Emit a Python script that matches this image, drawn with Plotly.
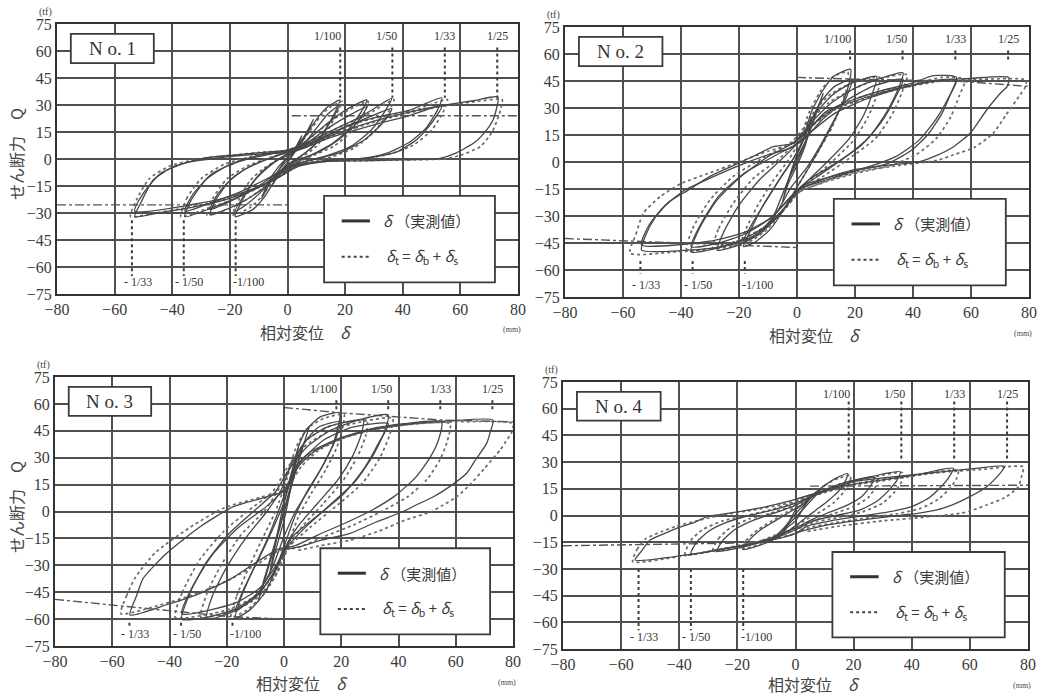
import plotly.graph_objects as go

W, H = 1041, 695

X_TICKS = [-80, -60, -40, -20, 0, 20, 40, 60, 80]
Y_TICKS = [-75, -60, -45, -30, -15, 0, 15, 30, 45, 60, 75]
PANEL_NAMES = ["N o. 1", "N o. 2", "N o. 3", "N o. 4"]

DRIFT_POS_X = [18.3, 36.4, 54.6, 72.8]
DRIFT_POS_LABELS = ["1/100", "1/50", "1/33", "1/25"]
DRIFT_NEG_X = [-54.0, -36.0, -18.0]
DRIFT_NEG_LABELS = ["- 1/33", "- 1/50", "-1/100"]
DRIFT_POS_SPAN = [(62, 34), (62, 56), (62, 57), (64, 31)]
DRIFT_NEG_SPAN = [(-34, -65), (-55, -62), (-62, -64.5), (-30, -64.5)]

LEGEND_MEASURED = "<i>δ</i> （実測値）"
LEGEND_CALC = "<i>δ</i><sub>t</sub> = <i>δ</i><sub>b</sub> + <i>δ</i><sub>s</sub>"
X_TITLE = "相対変位　<i>δ</i>"
Y_TITLE = "せん断力　Q"

# ---------------- No.1 ----------------
NO1_MEASURED = [
    [(5, 13), (3, 7), (0, 1), (-3, -6), (-5, -14), (-3, -8), (0, -2), (3, 5), (5, 13)],
    [(9, 22), (6, 12), (2, 3), (-3, -6), (-6, -13), (-9, -22), (-7, -14), (-3, -4), (2, 4), (6, 13), (9, 22)],
    [(-18.2, -32), (-16, -24), (-12, -13), (-7, -5), (-2, 1), (3, 6), (7, 15), (11, 24), (14, 29), (18.2, 32.8),
     (16.5, 26), (13, 16), (9, 7), (4, 1), (0, -4), (-4, -11), (-8, -21), (-12, -28), (-18.2, -32)],
    [(-18.2, -29), (-15, -20), (-10, -9), (-5, -2), (0, 2), (5, 7), (10, 17), (14, 25), (18.2, 30),
     (15, 21), (11, 11), (6, 3), (1, -2), (-4, -9), (-9, -18), (-14, -25), (-18.2, -29)],
    [(-26.9, -31), (-25, -23), (-20, -12), (-13, -4), (-5, 1), (2, 5), (8, 12), (14, 20), (20, 27), (27.5, 32.8),
     (25.5, 26), (21, 16), (15, 8), (8, 2), (2, -3), (-3, -9), (-9, -17), (-17, -25), (-26.9, -31)],
    [(-26.9, -28), (-24, -19), (-18, -9), (-10, -2), (-2, 3), (6, 8), (13, 16), (20, 23), (27.5, 29),
     (24, 20), (18, 11), (11, 4), (3, -1), (-3, -7), (-10, -15), (-18, -22), (-26.9, -28)],
    [(-35.6, -32), (-33.5, -23), (-28, -11), (-20, -3), (-10, 2), (0, 5), (8, 10), (17, 17), (26, 24), (36.2, 33.7),
     (34, 27), (29, 16), (22, 7), (14, 2), (5, -2), (-1, -6), (-8, -14), (-17, -21), (-26, -27), (-35.6, -32)],
    [(-35.6, -29), (-33, -20), (-26, -8), (-16, -1), (-5, 3), (5, 7), (15, 14), (25, 21), (36.2, 28),
     (33, 20), (27, 11), (19, 4), (10, 0), (2, -3), (-6, -10), (-16, -18), (-26, -24), (-35.6, -29)],
    [(-53, -32), (-51, -24.6), (-46.6, -11.7), (-39.6, -4.3), (-29.2, 0.4), (-18.8, 2.2), (-6, 4), (2, 5),
     (12, 12), (22.8, 19.8), (33, 24), (42.5, 27.2), (53.5, 34), (52, 27), (48, 17), (42, 9), (34, 3), (24, 0),
     (12, -1), (3, -4), (-2, -9), (-11.9, -17), (-22.3, -23), (-33.6, -27), (-45, -30), (-53, -32)],
    [(-53, -29), (-50, -19), (-44, -8), (-35, -2), (-22, 1), (-8, 3), (2, 4), (15, 12), (30, 19), (42, 24),
     (53.5, 29.5), (50, 20), (45, 11), (38, 4), (28, 0.5), (15, -1), (4, -4), (-5, -12), (-18, -20), (-32, -25),
     (-53, -29)],
    [(2, 4), (15, 13), (30, 21), (45, 27), (55, 30), (65, 32.5), (73, 34.4), (71.4, 22), (68, 14), (64.5, 8.7),
     (58, 3), (52.9, 0.4), (40, -0.5), (25, -1), (11.3, -1.5), (2, -4), (-2, -9)],
]
NO1_CALC = [
    [(-19, -31), (-17, -23), (-13, -12), (-8, -5), (-2, 1), (3, 6), (8, 16), (12, 25), (15, 29), (19, 32),
     (17, 25), (14, 16), (10, 7), (5, 1), (0, -4), (-5, -12), (-9, -21), (-13, -27), (-19, -31)],
    [(-28, -31), (-26, -22), (-21, -11), (-14, -4), (-6, 1), (2, 5), (9, 13), (15, 21), (21, 27), (28, 32),
     (26.5, 25), (22, 15), (16, 7), (9, 2), (2, -3), (-4, -10), (-10, -18), (-18, -26), (-28, -31)],
    [(-37, -32), (-35, -22), (-30, -11), (-22, -3), (-11, 2), (0, 5), (8, 10), (17, 17), (27, 24), (37, 33),
     (35, 26), (30, 15), (23, 6), (15, 1), (6, -2), (-1, -7), (-9, -15), (-18, -22), (-27, -27), (-37, -32)],
    [(-54.5, -32), (-52.5, -23), (-48, -11), (-41, -4), (-31, 0), (-20, 2), (-7, 4), (2, 5), (13, 12), (24, 20),
     (34, 24), (44, 27), (55.5, 33), (54, 26), (50, 16), (44, 8), (36, 3), (26, 0), (13, -1), (3, -4), (-2, -9),
     (-12, -17), (-23, -23), (-35, -27), (-46, -30), (-54.5, -32)],
    [(2, 4), (16, 13), (31, 21), (46, 27), (56, 30), (66, 32), (74.5, 33), (73.5, 25), (71, 15), (67, 7),
     (60, 2), (54, 0), (40, -0.5), (25, -1), (11, -1.5), (2, -4)],
]
NO1_STRENGTH = [[(1.5, 24), (80, 24)], [(-80, -25.5), (0, -25.5)]]

# ---------------- No.2 ----------------
NO2_MEASURED = [
    [(5, 25), (3, 15), (0, 4), (-3, -10), (-5, -22), (-3, -12), (0, -2), (3, 10), (5, 25)],
    [(9, 38), (6, 25), (3, 12), (0, 2), (-4, -14), (-9, -34), (-6, -22), (-3, -10), (0, 0), (4, 15), (9, 38)],
    [(-18.5, -47), (-16, -38), (-12, -25), (-7, -12), (-2, 0), (2, 12), (5, 28), (9, 40), (13, 48), (18.5, 51.5),
     (18, 44), (16, 34), (12, 20), (7, 5), (3, -6), (0, -14), (-4, -25), (-9, -37), (-14, -44), (-18.5, -47)],
    [(-18.5, -44), (-15, -33), (-10, -20), (-5, -7), (0, 5), (4, 20), (8, 33), (13, 42), (19, 46),
     (17, 36), (13, 24), (8, 9), (3, -4), (-2, -14), (-7, -28), (-13, -39), (-18.5, -44)],
    [(-27.5, -49), (-25, -38), (-20, -24), (-13, -10), (-5, 2), (1, 12), (6, 26), (12, 37), (19, 44), (27.5, 47.5),
     (26, 38), (23, 26), (18, 13), (11, 1), (4, -10), (-1, -18), (-6, -29), (-13, -40), (-20, -46), (-27.5, -49)],
    [(-36.5, -50), (-34, -38), (-28, -22), (-20, -9), (-10, 3), (-1, 11), (5, 22), (12, 33), (20, 41), (28, 46),
     (36.6, 49.5), (35, 41), (31, 28), (25, 14), (17, 3), (8, -7), (1, -15), (-4, -25), (-11, -36), (-20, -44),
     (-28, -48), (-36.5, -50)],
    [(-36.5, -47), (-33, -34), (-27, -19), (-18, -6), (-7, 4), (2, 12), (9, 24), (17, 34), (26, 42), (36.6, 46),
     (34, 36), (29, 22), (22, 9), (13, -1), (4, -10), (-2, -19), (-9, -31), (-18, -40), (-27, -45), (-36.5, -47)],
    [(-53.6, -49), (-52, -40), (-49, -31), (-44, -22), (-37.5, -15.6), (-30, -8), (-22, -2), (-14, 4), (-8.2, 8.5),
     (-1.3, 10.4), (4, 18), (10, 28), (20, 35), (30, 40), (40, 44), (47, 48), (55, 47), (53, 38), (50, 27),
     (45, 15), (39, 6), (31, -1), (20, -5), (10, -10), (0, -15.6), (-4, -25), (-9, -34), (-16, -42), (-26, -47),
     (-38, -49), (-53.6, -49)],
    [(-53.6, -46), (-51, -35), (-46, -25), (-39, -16), (-30, -9), (-20, -2), (-10, 4), (-2, 8), (5, 17), (13, 27),
     (24, 35), (36, 41), (46, 45), (55, 45.5), (52, 35), (48, 24), (42, 12), (34, 3), (24, -3), (12, -8), (2, -13),
     (-3, -21), (-9, -31), (-18, -39), (-30, -44), (-53.6, -46)],
    [(-1.3, 10.4), (5, 20), (12, 29), (22, 35), (35, 41), (48, 45), (60, 46.5), (73, 47), (72.5, 42), (70.6, 39),
     (65.4, 28.9), (59.7, 16), (54, 8.5), (48, 3.5), (42.4, 0.2), (30, -2), (19.4, -4.4), (10, -9), (0, -15.6)],
]
NO2_CALC = [
    [(-19.5, -46), (-17.5, -37), (-13.5, -24), (-8.5, -11), (-3, 1), (1, 12), (4, 27), (8, 39), (12, 47), (17.5, 50),
     (17.5, 43), (15.5, 33), (12, 19), (7, 5), (3, -6), (0, -14), (-4, -25), (-10, -37), (-15, -43), (-19.5, -46)],
    [(-29, -48), (-27, -37), (-22, -23), (-15, -9), (-6, 2), (0, 12), (5, 26), (11, 37), (19, 44), (28.5, 47),
     (27.5, 37), (24.5, 25), (19.5, 12), (12, 0), (5, -10), (0, -18), (-6, -29), (-13, -40), (-21, -46), (-29, -48)],
    [(-38, -49), (-36, -37), (-30, -21), (-22, -8), (-11, 3), (-2, 11), (4, 22), (11, 33), (20, 41), (28, 46),
     (38, 48.5), (36.5, 40), (33, 27), (27, 13), (18, 2), (9, -8), (1, -16), (-4, -26), (-12, -37), (-21, -44),
     (-29, -48), (-38, -49)],
    [(-57.6, -50.7), (-55.5, -40), (-53, -28.5), (-47.2, -19.3), (-40, -12), (-30, -6), (-20, 0), (-10, 6),
     (-2, 10), (4, 18), (10, 27), (20, 35), (31, 40), (42, 44), (50, 47), (58, 46), (56, 37), (53, 25), (48, 13),
     (41, 4), (32, -2), (21, -6), (10, -11), (0, -17), (-5, -27), (-11, -36), (-19, -43), (-29, -48), (-42, -50),
     (-57.6, -50.7)],
    [(-2, 10), (5, 20), (13, 29), (23, 35), (36, 41), (50, 45), (64, 46), (79, 45.5), (78.5, 41), (76.9, 37.2),
     (72, 26), (67.7, 16), (61, 8), (54, 4), (48.7, 1.1), (35, -2), (22, -5), (11, -10), (0, -17)],
]
NO2_STRENGTH = [[(0, 47), (20, 46), (55, 45), (80, 42)], [(-80, -42.5), (-55, -44), (-20, -46), (0, -47.5)]]

# ---------------- No.3 ----------------
NO3_MEASURED = [
    [(5, 35), (3, 22), (0, 5), (-3, -18), (-5, -35), (-3, -22), (0, -5), (3, 18), (5, 35)],
    [(9, 48), (7, 38), (4, 22), (1, 5), (-3, -18), (-9, -50), (-7, -38), (-4, -22), (-1, -5), (3, 18), (9, 48)],
    [(-17.1, -59.6), (-15, -48), (-11, -33), (-6, -16), (-2, 0), (2, 18), (5, 36), (8, 46), (13, 53), (19.5, 55),
     (19, 48), (17, 37), (13, 24), (8, 11), (4, -2), (1, -15), (-3, -33), (-7, -46), (-12, -55), (-17.1, -59.6)],
    [(-17.1, -56), (-14, -43), (-9, -27), (-4, -10), (0, 5), (3, 22), (7, 38), (12, 47), (19.5, 50),
     (18, 40), (14, 27), (9, 13), (4, 0), (0, -14), (-4, -31), (-9, -45), (-17.1, -56)],
    [(-27, -60), (-25, -47), (-20, -31), (-13, -14), (-6, 0), (-1, 12), (3, 28), (8, 40), (15, 47), (22, 50),
     (27.7, 51), (27, 43), (24, 31), (19, 18), (12, 5), (5, -8), (0, -21), (-4, -35), (-10, -48), (-18, -56),
     (-27, -60)],
    [(-35.7, -60.1), (-33, -46), (-27, -28), (-19, -12), (-10, 1), (-3, 11), (2, 24), (8, 36), (16, 45), (26, 51),
     (36.4, 53.8), (35, 44), (31, 31), (25, 17), (17, 5), (8, -8), (1, -20), (-3, -33), (-9, -46), (-18, -55),
     (-27, -59), (-35.7, -60.1)],
    [(-35.7, -57), (-32, -42), (-25, -24), (-16, -9), (-6, 3), (1, 14), (6, 28), (14, 40), (24, 47), (36.4, 49),
     (33, 38), (28, 24), (21, 10), (12, -2), (3, -14), (-2, -28), (-8, -42), (-17, -51), (-35.7, -57)],
    [(-53.8, -57.7), (-51.5, -47), (-49.2, -37.3), (-41, -23.3), (-29.3, -8.5), (-17.7, 2.7), (-6, 8.2), (1, 12),
     (4, 25), (9, 33), (18, 40), (30, 46), (42, 49), (55, 50), (54, 40), (51, 30), (46, 19), (39, 9), (31, 1),
     (22, -6), (12, -13), (4, -19), (-2, -21), (-8.4, -27), (-18, -37), (-29.3, -45.6), (-41, -52), (-53.8, -57.7)],
    [(1, 12), (5, 25), (11, 34), (20, 41), (32, 46), (45, 49), (58, 50.5), (73, 51), (72, 44), (70.8, 38), (67, 29),
     (63.8, 21.3), (58, 14), (52.2, 8.2), (46, 3.5), (41.7, 0), (32, -6), (23.1, -12.2), (13, -16), (5.6, -19.6),
     (1, -21)],
]
NO3_CALC = [
    [(-18.5, -59), (-16.5, -47), (-12.5, -32), (-7.5, -15), (-3, 0), (1, 18), (4, 35), (8, 46), (14, 52), (21, 54),
     (20.5, 47), (18.5, 36), (14.5, 23), (9.5, 10), (5, -3), (2, -16), (-2, -33), (-7, -46), (-13, -55), (-18.5, -59)],
    [(-29, -59), (-27, -46), (-22, -30), (-15, -13), (-7, 0), (-2, 12), (3, 28), (8, 40), (15, 47), (22, 50), (29, 51),
     (28.5, 42), (25.5, 30), (20.5, 17), (13.5, 4), (6, -9), (1, -22), (-3, -36), (-10, -49), (-19, -56), (-29, -59)],
    [(-38, -59), (-35.5, -45), (-29.5, -27), (-21, -11), (-12, 1), (-4, 11), (1, 24), (7, 36), (16, 45), (27, 50),
     (38, 52), (37, 43), (33.5, 30), (27.5, 16), (19, 4), (9, -9), (1, -21), (-3, -34), (-10, -47), (-20, -55),
     (-38, -59)],
    [(-57, -57), (-55, -47), (-52, -37), (-45, -23), (-33, -9), (-21, 2), (-8, 8), (0, 12), (4, 25), (10, 33),
     (19, 40), (31, 46), (44, 48.5), (58, 49), (57, 39), (54.5, 29), (50, 18), (43, 8), (34, 0), (25, -7), (14, -14),
     (5, -20), (-2, -22), (-9, -29), (-19, -38), (-31, -46), (-43, -52), (-57, -57)],
    [(1, 12), (6, 25), (12, 34), (21, 41), (33, 46), (46, 49), (60, 50), (80, 49), (79.5, 44), (77.5, 39),
     (75.5, 34.3), (70, 24), (65, 15), (60.3, 8.2), (55, 3), (51.6, 0), (42, -5), (33, -11), (23, -16), (13, -19),
     (4, -22)],
]
NO3_STRENGTH = [[(0, 58), (20, 55), (55, 51), (80, 50)], [(-80, -49), (-55, -53), (-20, -58.5), (0, -60)]]

# ---------------- No.4 ----------------
NO4_MEASURED = [
    [(5, 10), (3, 7), (0, 3), (-3, -6), (-5, -11), (-3, -7), (0, -3), (3, 5), (5, 10)],
    [(9, 15), (6, 11), (3, 6), (0, 1), (-4, -7), (-9, -15), (-6, -11), (-3, -6), (0, -1), (4, 6), (9, 15)],
    [(-18, -19), (-16, -14), (-12, -8), (-7, -3), (-2, 2), (3, 7), (7, 13), (11, 18), (14, 21), (18, 23.5),
     (17, 19), (15, 14), (11, 8), (7, 3), (3, -2), (-1, -7), (-6, -12), (-11, -16), (-18, -19)],
    [(-27, -20), (-25, -14), (-21, -8), (-15, -3), (-8, 1), (-1, 5), (5, 10), (11, 15), (18, 19), (27, 21.5),
     (26, 17), (23, 11), (18, 6), (12, 2), (6, -2), (0, -7), (-6, -11), (-14, -16), (-27, -20)],
    [(-36, -21.5), (-34, -15), (-30, -9), (-24, -4), (-16, 0), (-8, 3), (0, 7), (6, 11), (14, 16), (24, 21),
     (36, 24.5), (35, 20), (32, 14), (28, 8), (22, 3), (14, 0), (6, -3), (0, -8), (-6, -12), (-14, -15.5),
     (-24, -18.5), (-36, -21.5)],
    [(-55.2, -25), (-53, -20), (-50, -13.8), (-45, -10), (-40.9, -7.2), (-35, -4), (-30.5, -0.7), (-20, 2),
     (-10, 5), (0, 9), (8, 13), (18, 17), (30, 20), (42, 23), (54.3, 26.5), (53, 22), (50, 16), (46, 10), (40, 5),
     (32, 2), (24, 0), (12, -3), (4, -6), (0, -10), (-6, -13), (-15, -16), (-25, -19), (-37, -22), (-55.2, -25)],
    [(0, 9), (10, 14), (20, 19), (35, 22), (50, 24.5), (62, 26.5), (72.1, 27.8), (71, 25), (70.4, 23.7),
     (65.8, 16.2), (60, 10.6), (54, 6), (48.6, 3.1), (42, 1.2), (37.1, 0.3), (25, -2), (12, -5), (4, -8), (0, -10)],
]
NO4_CALC = [
    [(-19, -19), (-17, -14), (-13, -8), (-8, -3), (-3, 2), (2, 7), (7, 13), (11, 18), (15, 21), (19, 22.5),
     (18.5, 18), (16.5, 13), (13, 7), (8.5, 2), (4, -2), (-1, -7), (-6, -12), (-12, -16), (-19, -19)],
    [(-28.5, -20), (-26.5, -13), (-22.5, -7), (-16, -2), (-9, 1), (-2, 5), (5, 10), (11, 15), (18, 19), (28, 21),
     (27.5, 16), (25, 10), (20, 5), (13, 1), (6, -3), (0, -7), (-7, -11), (-15, -16), (-28.5, -20)],
    [(-38, -22), (-36, -14), (-32, -8), (-25, -3), (-17, 0), (-9, 3), (-1, 7), (6, 11), (14, 16), (25, 21), (37, 24),
     (36.5, 19), (34, 13), (30, 7), (23, 2), (15, -1), (6, -4), (0, -8), (-7, -12), (-15, -15.5), (-26, -19),
     (-38, -22)],
    [(-56, -26), (-54.5, -19), (-51.5, -13), (-46, -9), (-41, -6), (-34, -3), (-26, 0), (-15, 3), (-5, 6), (2, 9),
     (10, 13), (20, 17), (32, 20), (44, 23), (56, 25.5), (55.5, 21), (53, 15), (49, 9), (43, 4), (35, 1), (26, -1),
     (14, -4), (4, -7), (0, -10), (-7, -13), (-17, -16), (-28, -19.5), (-40, -23), (-56, -26)],
    [(2, 9), (12, 14), (24, 19), (38, 22), (52, 24.5), (65, 26), (78.4, 27.4), (77.8, 22), (76.7, 16.2), (72, 10),
     (65.8, 5.9), (60, 2.5), (56.6, 1.2), (44, -1), (30, -3), (15, -6), (4, -9)],
]
NO4_STRENGTH = [[(5, 16.5), (80, 17)], [(-80, -17), (-55, -16.5), (-20, -15.5)]]

PANELS = [
    (NO1_MEASURED, NO1_CALC, NO1_STRENGTH),
    (NO2_MEASURED, NO2_CALC, NO2_STRENGTH),
    (NO3_MEASURED, NO3_CALC, NO3_STRENGTH),
    (NO4_MEASURED, NO4_CALC, NO4_STRENGTH),
]

# plot-area pixel boxes (left, top, right, bottom)
BOXES = [(57, 24, 518, 294), (565, 27, 1029, 297), (55, 377, 513, 646), (563, 382, 1028, 649)]
X_TITLE_DY = [38, 38, 37, 35]

INK = "#474747"
SERIF = "Liberation Serif"
JP = "Noto Sans CJK JP"


def flatten(loops):
    xs, ys = [], []
    for lp in loops:
        for (a, b) in lp:
            xs.append(a)
            ys.append(b)
        xs.append(None)
        ys.append(None)
    return xs, ys


def px(xp, yp):
    return xp / W, 1 - yp / H


def paper_text(xp, yp, text, font, angle=0):
    ux, uy = px(xp, yp)
    return dict(x=ux, y=uy, xref="paper", yref="paper", text=text, showarrow=False,
                xanchor="center", yanchor="middle", textangle=angle, font=font)


fig = go.Figure()
layout = dict(width=W, height=H, margin=dict(l=0, r=0, t=0, b=0, autoexpand=False),
              paper_bgcolor="white", plot_bgcolor="white", showlegend=False)
annotations = []
shapes = []

for i, (meas, calc, strength) in enumerate(PANELS):
    n = "" if i == 0 else str(i + 1)
    xr, yr = "x" + n, "y" + n
    l, t, r, b = BOXES[i]
    axis_common = dict(showgrid=True, gridcolor="#505050", gridwidth=1.6, zeroline=False,
                       showline=True, mirror=True, linecolor="#333333", linewidth=2.2,
                       ticks="", automargin=False,
                       tickfont=dict(family=SERIF, size=16, color="#3a3a3a"))
    layout["xaxis" + n] = dict(axis_common, domain=[l / W, r / W], range=[-80, 80],
                               tickvals=X_TICKS, anchor=yr)
    layout["yaxis" + n] = dict(axis_common, domain=[1 - b / H, 1 - t / H], range=[-75, 75],
                               tickvals=Y_TICKS, anchor=xr)

    # strength (dash-dot) lines
    sx, sy = flatten(strength)
    fig.add_trace(go.Scatter(x=sx, y=sy, xaxis=xr, yaxis=yr, mode="lines",
                             line=dict(color="#555555", width=1.4, dash="dashdot"), hoverinfo="skip"))
    # calculated (dotted)
    cx, cy = flatten(calc)
    fig.add_trace(go.Scatter(x=cx, y=cy, xaxis=xr, yaxis=yr, mode="lines",
                             line=dict(color="#6a6a6a", width=1.7, dash="dot", shape="spline", smoothing=0.6),
                             hoverinfo="skip"))
    # measured (solid)
    mx, my = flatten(meas)
    fig.add_trace(go.Scatter(x=mx, y=my, xaxis=xr, yaxis=yr, mode="lines",
                             line=dict(color=INK, width=1.3, shape="spline", smoothing=0.6),
                             hoverinfo="skip"))

    # drift angle guide lines
    top0, top1 = DRIFT_POS_SPAN[i]
    dx, dy = [], []
    for xv in DRIFT_POS_X:
        dx += [xv, xv, None]
        dy += [top0, top1, None]
    neg0, neg1 = DRIFT_NEG_SPAN[i]
    for xv in DRIFT_NEG_X:
        dx += [xv, xv, None]
        dy += [neg0, neg1, None]
    fig.add_trace(go.Scatter(x=dx, y=dy, xaxis=xr, yaxis=yr, mode="lines",
                             line=dict(color="#3c3c3c", width=2, dash="3px,3px"), hoverinfo="skip"))

    lab_font = dict(family=SERIF, size=12, color="#333333")
    for k, (xv, lab) in enumerate(zip(DRIFT_POS_X, DRIFT_POS_LABELS)):
        if k == 0:
            annotations.append(dict(x=xv + 1.0, y=68.5, xref=xr, yref=yr, text=lab, showarrow=False,
                                    xanchor="right", yanchor="middle", font=lab_font))
        elif k == 1:
            annotations.append(dict(x=xv - 2.2, y=68.5, xref=xr, yref=yr, text=lab, showarrow=False,
                                    xanchor="center", yanchor="middle", font=lab_font))
        else:
            annotations.append(dict(x=xv, y=68.5, xref=xr, yref=yr, text=lab, showarrow=False,
                                    xanchor="center", yanchor="middle", font=lab_font))
    for k, (xv, lab) in enumerate(zip(DRIFT_NEG_X, DRIFT_NEG_LABELS)):
        off = 1.6 if k == 2 else 3.6
        annotations.append(dict(x=xv - off, y=-68.3, xref=xr, yref=yr, text=lab, showarrow=False,
                                xanchor="left", yanchor="middle", font=lab_font))

    # specimen name box
    shapes.append(dict(type="rect", xref=xr, yref=yr, x0=-75.2, x1=-46.4, y0=53.3, y1=69.5,
                       fillcolor="white", line=dict(color="#3a3a3a", width=1.8), layer="between"))
    annotations.append(dict(x=-60.8, y=61.4, xref=xr, yref=yr, text=PANEL_NAMES[i], showarrow=False,
                            xanchor="center", yanchor="middle",
                            font=dict(family=SERIF, size=19, color="#333333")))

    # legend box
    shapes.append(dict(type="rect", xref=xr, yref=yr, x0=12.7, x1=72.0, y0=-68.5, y1=-20.5,
                       fillcolor="white", line=dict(color="#3a3a3a", width=1.8), layer="between"))
    shapes.append(dict(type="line", xref=xr, yref=yr, x0=18.8, x1=28.6, y0=-34.4, y1=-34.4,
                       line=dict(color="#333333", width=3)))
    shapes.append(dict(type="line", xref=xr, yref=yr, x0=18.8, x1=28.6, y0=-54.3, y1=-54.3,
                       line=dict(color="#444444", width=2, dash="dot")))
    annotations.append(dict(x=32.5, y=-34.4, xref=xr, yref=yr, text=LEGEND_MEASURED, showarrow=False,
                            xanchor="left", yanchor="middle", font=dict(family=JP, size=15, color="#3a3a3a")))
    annotations.append(dict(x=33.5, y=-54.3, xref=xr, yref=yr, text=LEGEND_CALC, showarrow=False,
                            xanchor="left", yanchor="middle", font=dict(family=JP, size=15, color="#3a3a3a")))

    # unit labels
    annotations.append(paper_text(l - 12, t - 12, "(tf)", dict(family=SERIF, size=10, color="#444444")))
    annotations.append(paper_text(r - 6, b + 36, "(mm)", dict(family=SERIF, size=8, color="#444444")))
    # x title
    annotations.append(paper_text((l + r) / 2 + 18, b + X_TITLE_DY[i], X_TITLE,
                                  dict(family=JP, size=16, color="#444444")))
    # y title (left column only)
    if i in (0, 2):
        annotations.append(paper_text(16, t + 130, Y_TITLE, dict(family=JP, size=16, color="#444444"), angle=-90))

layout["annotations"] = annotations
layout["shapes"] = shapes
fig.update_layout(**layout)
fig.write_html("out.html", post_script="document.body.style.margin='0px';",
               config={"displayModeBar": False})
